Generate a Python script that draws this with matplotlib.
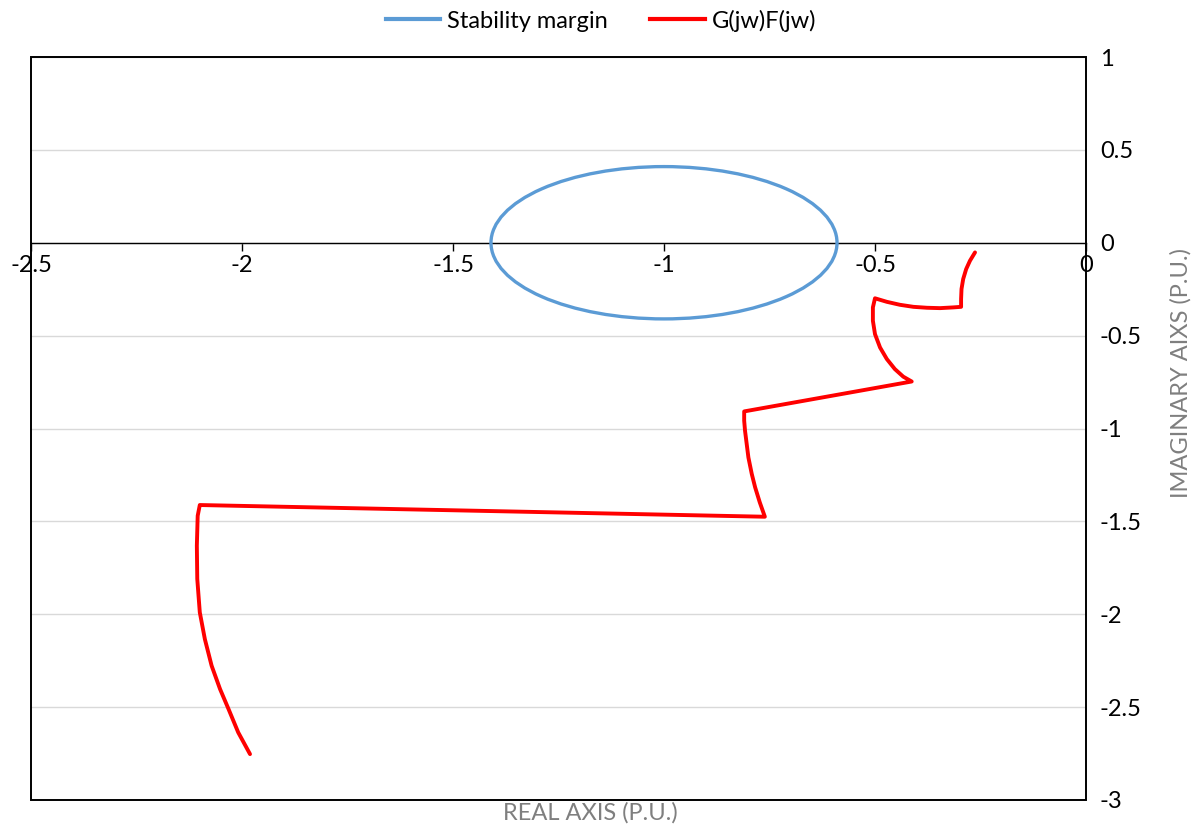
import matplotlib.pyplot as plt
from matplotlib.patches import Circle, Rectangle
from matplotlib.lines import Line2D

plt.rcParams['font.family'] = ['Lato', 'DejaVu Sans']
plt.rcParams['axes.unicode_minus'] = False

# Stability margin circle around the critical point (-1, 0)
margem_centro = (-1.0, 0.0)
margem_raio = 0.41

# Nyquist curve of G(jw)F(jw)
real_gf = [-0.263, -0.275, -0.284, -0.291, -0.295, -0.296, -0.296,
           -0.314, -0.346, -0.377, -0.409, -0.441, -0.472, -0.500,
           -0.505, -0.505, -0.500, -0.488, -0.472, -0.453, -0.433, -0.413,
           -0.810, -0.810, -0.808, -0.804, -0.800, -0.792, -0.784, -0.773, -0.761,
           -2.100, -2.105, -2.107, -2.106, -2.100, -2.088, -2.072, -2.052,
           -2.032, -2.009, -1.981]
imag_gf = [-0.052, -0.097, -0.142, -0.195, -0.249, -0.303, -0.345,
           -0.348, -0.352, -0.350, -0.345, -0.334, -0.318, -0.299,
           -0.348, -0.420, -0.492, -0.564, -0.626, -0.680, -0.721, -0.747,
           -0.908, -0.958, -1.012, -1.084, -1.156, -1.245, -1.317, -1.398, -1.475,
           -1.412, -1.470, -1.631, -1.810, -1.990, -2.134, -2.277, -2.403,
           -2.510, -2.636, -2.753]

xticks = [-2.5, -2, -1.5, -1, -0.5, 0]
yticks = [1, 0.5, 0, -0.5, -1, -1.5, -2, -2.5, -3]

azul = '#5B9BD5'
vermelho = '#FF0000'
cinza = '#7F7F7F'
fs = 17

fig = plt.figure(figsize=(12.02, 8.27), dpi=100)
ax = fig.add_axes([31 / 1202, 27 / 827, 1055 / 1202, 743 / 827])

# Circle patch in data coordinates
ax.add_patch(Circle(margem_centro, margem_raio, fill=False, edgecolor=azul, lw=2.4, zorder=3))
ax.plot(real_gf, imag_gf, color=vermelho, lw=2.8, zorder=4,
        solid_joinstyle='round', solid_capstyle='round')

ax.set_xlim(-2.5, 0)
ax.set_ylim(-3, 1)
ax.set_xticks(xticks)
ax.set_xticklabels([f'{v:g}' for v in xticks])
ax.set_yticks(yticks)
ax.set_yticklabels([f'{v:g}' for v in yticks])

# Horizontal axis crosses at y = 0
for lado in ['top', 'left', 'right']:
    ax.spines[lado].set_visible(False)
ax.spines['bottom'].set_position(('data', 0))
ax.spines['bottom'].set_linewidth(1.0)
ax.add_patch(Rectangle((0, 0), 1, 1, transform=ax.transAxes, fill=False,
                       edgecolor='black', lw=1.4, clip_on=False, zorder=5))

ax.tick_params(axis='x', direction='out', length=6, width=1, pad=3, labelsize=fs)
ax.yaxis.tick_right()
ax.tick_params(axis='y', length=0, pad=10, labelsize=fs)
ax.yaxis.grid(True, color='#D9D9D9', lw=1)
ax.set_axisbelow(True)

ax.set_xlabel('REAL AXIS (P.U.)', color=cinza, fontsize=fs)
ax.xaxis.set_label_coords(0.53, -0.003)
ax.xaxis.label.set_va('top')
ax.yaxis.set_label_position('right')
ax.set_ylabel('IMAGINARY AIXS (P.U.)', color=cinza, fontsize=fs, rotation=90)
ax.yaxis.set_label_coords(1.08, 0.575)

handles = [Line2D([], [], color=azul, lw=3), Line2D([], [], color=vermelho, lw=3)]
fig.legend(handles, ['Stability margin', 'G(jw)F(jw)'], loc='center',
           bbox_to_anchor=(0.5, 0.975), ncol=2, frameon=False, fontsize=fs,
           handlelength=2.3, handletextpad=0.3, columnspacing=1.8)

fig.savefig('out.png', dpi=100)
